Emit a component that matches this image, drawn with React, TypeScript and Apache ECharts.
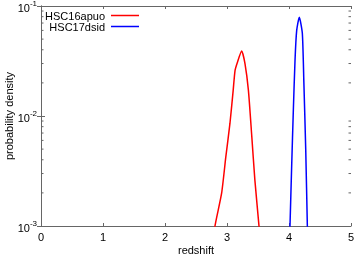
import React, { useEffect, useRef } from "react";
import * as echarts from "echarts";

const seriesNames = ["HSC16apuo", "HSC17dsid"];
const seriesColors = ["#ff0000", "#0000ff"];
const redZ = [2.76, 2.806, 2.914, 2.98, 3.048, 3.1, 3.13, 3.17, 3.236, 3.29, 3.345, 3.4, 3.45, 3.516, 3.54];
const redP = [0.0006, 0.001, 0.002, 0.0042, 0.0086, 0.0172, 0.026, 0.031, 0.039, 0.03, 0.0172, 0.0065, 0.0026, 0.001, 0.0007];
const blueZ = [4.005, 4.016, 4.043, 4.07, 4.097, 4.124, 4.166, 4.215, 4.24, 4.27, 4.296, 4.305];
const blueP = [0.0006, 0.001, 0.0035, 0.0113, 0.032, 0.06, 0.079, 0.0565, 0.02, 0.0049, 0.001, 0.0006];
const minorTickValues = [0.002, 0.003, 0.004, 0.005, 0.006, 0.007, 0.008, 0.009, 0.02, 0.03, 0.04, 0.05, 0.06, 0.07, 0.08, 0.09];
const xMin = 0, xMax = 5, yMin = 0.001, yMax = 0.1;

const FONT = "Liberation Sans";

export default function App() {
  const ref = useRef<HTMLDivElement>(null);
  useEffect(() => {
    const chart = echarts.init(ref.current!, null, { renderer: "svg" });
    const axisLine = { show: true, lineStyle: { color: "#666", width: 1 } };
    const minorData = minorTickValues.map((v) => [xMin, v]);
    chart.setOption({
      animation: false,
      grid: { left: 41, right: 4, top: 6, bottom: 30, containLabel: false, outerBoundsMode: "none" },
      xAxis: [
        {
          type: "value", min: xMin, max: xMax, interval: 1,
          axisLine, splitLine: { show: false },
          axisTick: { inside: true, length: 3, lineStyle: { color: "#666" } },
          axisLabel: { fontFamily: FONT, fontSize: 11, color: "#000", margin: 5 },
          name: "redshift", nameLocation: "middle", nameGap: 18, nameMoveOverlap: false,
          nameTextStyle: { fontFamily: FONT, fontSize: 11, color: "#000" },
        },
        {
          type: "value", min: xMin, max: xMax, interval: 1, position: "top",
          axisLine, splitLine: { show: false },
          axisTick: { inside: true, length: 3, lineStyle: { color: "#666" } },
          axisLabel: { show: false },
        },
      ],
      yAxis: [
        {
          type: "log", logBase: 10, min: yMin, max: yMax,
          axisLine, splitLine: { show: false },
          axisTick: { inside: true, length: 4, lineStyle: { color: "#666" } },
          axisLabel: {
            fontFamily: FONT, margin: 4, color: "#000",
            formatter: (v: number) => `{b|10}{s|${Math.round(Math.log10(v))}}`,
            rich: {
              b: { fontFamily: FONT, fontSize: 11, color: "#000", verticalAlign: "bottom", lineHeight: 14 },
              s: { fontFamily: FONT, fontSize: 8, color: "#000", verticalAlign: "top", lineHeight: 14 },
            },
          },
          name: "probability density", nameLocation: "middle", nameGap: 27, nameMoveOverlap: false,
          nameTextStyle: { fontFamily: FONT, fontSize: 11, color: "#000" },
        },
        {
          type: "log", logBase: 10, min: yMin, max: yMax, position: "right",
          axisLine, splitLine: { show: false },
          axisTick: { inside: true, length: 4, lineStyle: { color: "#666" } },
          axisLabel: { show: false },
        },
      ],
      series: [
        {
          name: seriesNames[0], type: "line", smooth: 0.2, showSymbol: false, clip: true,
          data: redZ.map((z, i) => [z, redP[i]]),
          lineStyle: { color: seriesColors[0], width: 1.5 },
        },
        {
          name: seriesNames[1], type: "line", smooth: 0.2, showSymbol: false, clip: true,
          data: blueZ.map((z, i) => [z, blueP[i]]),
          lineStyle: { color: seriesColors[1], width: 1.5 },
        },
        {
          type: "custom", silent: true, data: minorData, clip: false,
          encode: { x: 0, y: 1 },
          renderItem: (params: any, api: any) => {
            const v = api.value(1);
            const p = api.coord([xMin, v]);
            const cs = params.coordSys;
            const lx = cs.x;
            const rx = cs.x + cs.width;
            return {
              type: "group",
              children: [
                { type: "line", shape: { x1: lx, y1: p[1], x2: lx + 2.5, y2: p[1] }, style: { stroke: "#666", lineWidth: 1 } },
                { type: "line", shape: { x1: rx, y1: p[1], x2: rx - 2.5, y2: p[1] }, style: { stroke: "#666", lineWidth: 1 } },
              ],
            };
          },
        },
      ],
      graphic: seriesNames.flatMap((n, i) => [
        { type: "text", x: 105, y: 15.5 + i * 11, style: { text: n, fontFamily: FONT, fontSize: 11, fill: "#000", textAlign: "right", textVerticalAlign: "middle" } },
        { type: "line", shape: { x1: 111, y1: 15.5 + i * 11, x2: 139, y2: 15.5 + i * 11 }, style: { stroke: seriesColors[i], lineWidth: 1.5 } },
      ]),
    });
    return () => chart.dispose();
  }, []);
  return <div ref={ref} style={{ position: "fixed", left: 0, top: 0, width: 355, height: 256 }} />;
}
